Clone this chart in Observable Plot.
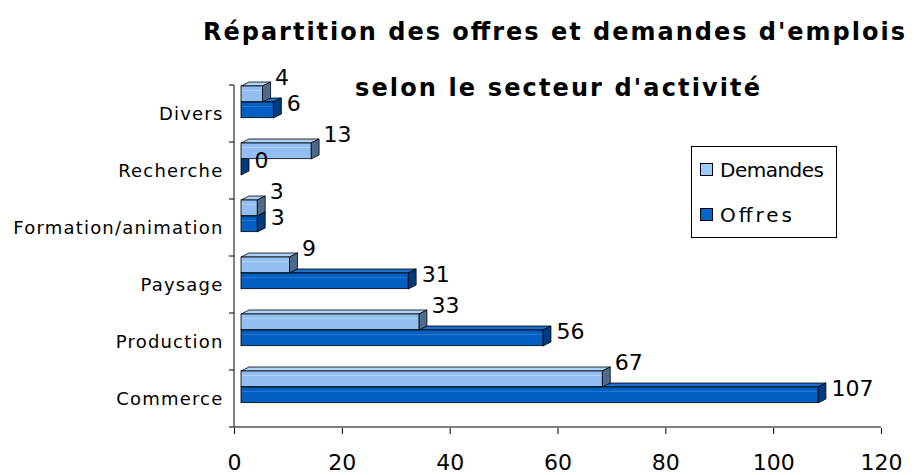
<!DOCTYPE html>
<html><head><meta charset="utf-8">
<script src="https://cdn.jsdelivr.net/npm/d3@7"></script>
<script src="https://cdn.jsdelivr.net/npm/@observablehq/plot@0.6"></script>
<style>
body{margin:0;background:#fff;}
#chart{position:relative;width:914px;height:475px;}
#chart svg{font-family:"DejaVu Sans",sans-serif;}
[aria-label^="x-axis"] text{font-size:22px;}
[aria-label^="y-axis"] text{font-size:18px;letter-spacing:1.2px;}
</style></head><body><div id="chart"></div>
<script>
const categories = ["Divers","Recherche","Formation/animation","Paysage","Production","Commerce"];
const demandes = [4,13,3,9,33,67];
const offres = [6,0,3,31,56,107];
const seriesNames = ["Demandes","Offres"];
const xTicks = [0,20,40,60,80,100,120];
const titleLines = ["Répartition des offres et demandes d'emplois","selon le secteur d'activité"];

const rows = categories.flatMap((c,i)=>[
  {cat:c, serie:seriesNames[0], value:demandes[i]},
  {cat:c, serie:seriesNames[1], value:offres[i]}
]);
const dem = rows.filter(d=>d.serie===seriesNames[0]);
const off = rows.filter(d=>d.serie===seriesNames[1]);

const W=914, H=475, ML=234, MR=33, MT=84, MB=47;
const BW = (H-MT-MB)/categories.length;
const SHIFT = 7, DX = 8, DY = 4;
const FRONT = {Demandes:[1,17], Offres:[17,33]};
const COL = {
  Demandes:{front:"#92bff0", top:"#acd2f8", side:"#4f6a8b", hi:"#bcdcfc", swatch:"#99ccff"},
  Offres:{front:"#005fc0", top:"#1c6fcc", side:"#003b7d", hi:"#3a86d6", swatch:"#0066cc"}
};

function depth(data, serie){
  return (index, scales) => {
    const g = d3.create("svg:g");
    const [t0,t1] = FRONT[serie];
    for (const d of data){
      const b = scales.y(d.cat);
      const x0 = scales.x(0)+SHIFT, x1 = scales.x(d.value)+SHIFT;
      const yt = b+t0, yb = b+t1;
      g.append("path")
        .attr("d", `M${x0},${yt}L${x0+DX},${yt-DY}L${x1+DX},${yt-DY}L${x1},${yt}Z`)
        .attr("fill", COL[serie].top).attr("stroke","#000").attr("stroke-width",0.8).attr("stroke-linejoin","round");
      g.append("path")
        .attr("d", `M${x1},${yt}L${x1+DX},${yt-DY}L${x1+DX},${yb-DY}L${x1},${yb}Z`)
        .attr("fill", COL[serie].side).attr("stroke","#000").attr("stroke-width",0.8).attr("stroke-linejoin","round");
    }
    return g.node();
  };
}

function axesLines(index, scales){
  const g = d3.create("svg:g").attr("stroke","#000").attr("stroke-width",1).attr("fill","none");
  const x0 = scales.x(0), x1 = scales.x(xTicks[xTicks.length-1]);
  const ys = categories.map(c=>scales.y(c));
  const bw = ys[1]-ys[0];
  const bottom = ys[ys.length-1]+bw;
  g.append("line").attr("x1",x0).attr("x2",x0).attr("y1",ys[0]).attr("y2",bottom);
  g.append("line").attr("x1",x0).attr("x2",x1).attr("y1",bottom).attr("y2",bottom);
  for (const y of [...ys,bottom]) g.append("line").attr("x1",x0-5).attr("x2",x0).attr("y1",y).attr("y2",y);
  return g.node();
}

function front(data, serie){
  const [t0,t1] = FRONT[serie];
  return [
    Plot.barX(data, {x:"value", y:"cat", dx:SHIFT, insetTop:t0, insetBottom:BW-t1, fill:COL[serie].front, stroke:"#000", strokeWidth:0.8}),
    Plot.barX(data, {x:"value", y:"cat", dx:SHIFT, insetTop:t0+4, insetBottom:BW-t0-5, insetLeft:1, insetRight:1, fill:COL[serie].hi})
  ];
}

const plot = Plot.plot({
  width: W, height: H,
  marginLeft: ML, marginRight: MR, marginTop: MT, marginBottom: MB,
  style: {background:"#fff", fontFamily:"DejaVu Sans, sans-serif", fontSize:"18px", overflow:"visible"},
  x: {domain:[0,120], ticks:xTicks, tickSize:6, tickPadding:20, label:null},
  y: {domain:categories, padding:0, tickSize:0, tickPadding:11, label:null},
  marks: [
    axesLines,
    depth(off, "Offres"),
    ...front(off, "Offres"),
    depth(dem, "Demandes"),
    ...front(dem, "Demandes"),
    Plot.text(off, {x:"value", y:"cat", text:d=>String(d.value), textAnchor:"start", dx:SHIFT+DX+5, dy:19-BW/2, fontSize:22, fill:"#000"}),
    Plot.text(dem, {x:"value", y:"cat", text:d=>String(d.value), textAnchor:"start", dx:SHIFT+DX+4, dy:-7-BW/2, fontSize:22, fill:"#000"})
  ]
});
document.getElementById("chart").appendChild(plot);

const svg = d3.select(plot);
// Title
const tg = svg.append("g").attr("font-family","DejaVu Sans, sans-serif").attr("font-weight","bold").attr("font-size",24).attr("fill","#000").attr("text-anchor","start");
tg.append("text").attr("x",203).attr("y",40).attr("text-anchor","start").attr("textLength",702).attr("lengthAdjust","spacing").text(titleLines[0]);
tg.append("text").attr("x",355).attr("y",96).attr("text-anchor","start").attr("textLength",405).attr("lengthAdjust","spacing").text(titleLines[1]);

// Legend
const lg = svg.append("g").attr("font-family","DejaVu Sans, sans-serif").attr("font-size",20).attr("text-anchor","start");
lg.append("rect").attr("x",691.5).attr("y",146.5).attr("width",145).attr("height",91).attr("fill","#fff").attr("stroke","#000");
const legendW = [104, 72];
seriesNames.forEach((s,i)=>{
  const yy = 163 + i*45;
  lg.append("rect").attr("x",700.5).attr("y",yy+0.5).attr("width",12).attr("height",12).attr("fill",COL[s].swatch).attr("stroke","#000");
  lg.append("text").attr("x",720).attr("y",yy+14).attr("text-anchor","start").attr("textLength",legendW[i]).attr("lengthAdjust","spacing").attr("fill","#000").text(s);
});
</script></body></html>
